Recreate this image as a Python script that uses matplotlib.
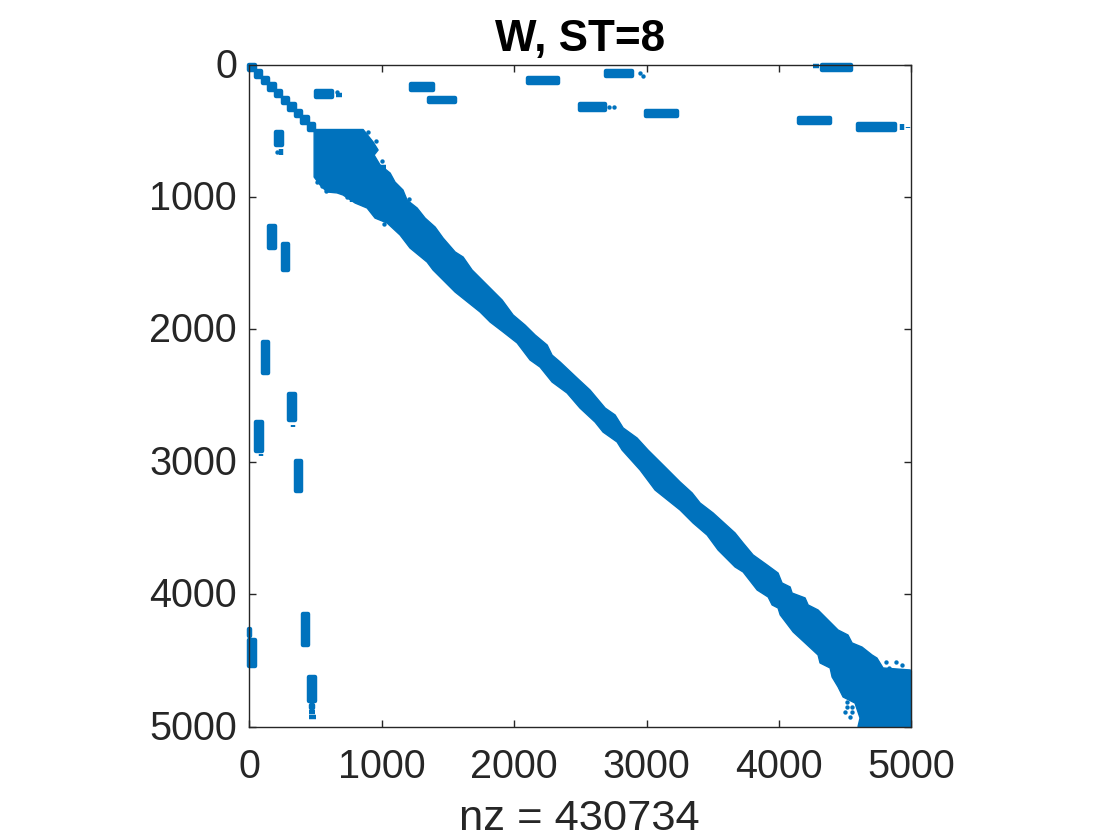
import matplotlib
matplotlib.use("Agg")
import matplotlib.pyplot as plt
from matplotlib.patches import Rectangle, Polygon
from matplotlib.transforms import ScaledTranslation

plt.rcParams['font.family'] = ['Liberation Sans', 'DejaVu Sans']

BLUE = '#0072BD'
DARK = '#262626'

title_text = 'W, ST=8'
xlabel_text = 'nz = 430734'
x_ticks = [0, 1000, 2000, 3000, 4000, 5000]
y_ticks = [0, 1000, 2000, 3000, 4000, 5000]

# Main diagonal band outline: (column, row)
upper_col = [489, 859, 934, 972, 942, 987, 1063, 1100, 1160, 1191, 1267, 1327, 1403, 1463, 1554, 1614,
             1682, 1795, 1909, 1992, 2082, 2158, 2249, 2286, 2347, 2475, 2573, 2687, 2762, 2823, 2928,
             3011, 3140, 3253, 3344, 3404, 3502, 3668, 3729, 3804, 3910, 3993, 4023, 4084, 4099, 4197,
             4220, 4295, 4446, 4521, 4552, 4627, 4703, 4740, 4786, 4990, 5000, 5000]
upper_row = [491, 491, 585, 646, 684, 759, 820, 888, 948, 1024, 1084, 1160, 1228, 1311, 1416, 1454,
             1552, 1665, 1779, 1892, 1968, 2043, 2119, 2195, 2247, 2368, 2459, 2595, 2647, 2745, 2821,
             2912, 3040, 3153, 3236, 3312, 3387, 3538, 3614, 3704, 3780, 3841, 3916, 3946, 3992, 4029,
             4082, 4120, 4271, 4309, 4369, 4400, 4460, 4483, 4558, 4573, 4580, 5000]
lower_col = [489, 489, 534, 587, 662, 708, 798, 889, 949, 1040, 1138, 1213, 1342, 1387, 1553, 1742,
             1818, 1916, 2022, 2120, 2195, 2286, 2399, 2497, 2611, 2671, 2777, 2815, 2951, 3064, 3253,
             3351, 3457, 3540, 3668, 3729, 3835, 3918, 3948, 3993, 4009, 4107, 4197, 4295, 4310, 4386,
             4401, 4446, 4484, 4574, 4612, 4597]
lower_row = [491, 850, 910, 963, 970, 986, 1046, 1084, 1160, 1197, 1288, 1386, 1492, 1552, 1718, 1869,
             1945, 2020, 2103, 2232, 2285, 2398, 2481, 2595, 2701, 2776, 2851, 2912, 3063, 3214, 3365,
             3463, 3554, 3667, 3795, 3833, 3969, 4022, 4082, 4105, 4157, 4286, 4369, 4460, 4520, 4558,
             4626, 4701, 4777, 4823, 4936, 5000]

# Ten leading diagonal blocks
diag_start = [0, 50, 100, 150, 200, 250, 300, 350, 400, 450]
diag_size = [50, 50, 50, 50, 50, 50, 50, 50, 50, 50]

# Off-diagonal clusters: column range and row range
block_col0 = [489, 640, 1206, 1403, 1342, 2090, 2679, 2482, 2981, 4310, 4250, 4137, 4582, 4918, 4960,
              187, 224, 134, 164, 239, 88, 285, 315, 35, 73, 338, 390,
              -17, -17, 436, 481, 451, 436, 436, 451, 980, 768]
block_col1 = [640, 708, 1403, 1425, 1569, 2347, 2905, 2702, 3245, 4559, 4310, 4401, 4892, 4940, 4985,
              262, 254, 209, 187, 307, 156, 358, 338, 111, 96, 406, 458,
              58, 25, 511, 511, 496, 511, 511, 481, 1040, 778]
block_row0 = [185, 223, 132, 155, 238, 87, 34, 283, 336, -15, 5, 389, 434, 440, 460,
              491, 623, 1205, 1401, 1341, 2081, 2474, 2708, 2685, 2934, 2980, 4135,
              4330, 4249, 4610, 4581, 4823, 4876, 4913, 4936, 770, 1008]
block_row1 = [261, 245, 208, 177, 298, 155, 102, 358, 404, 57, 25, 457, 510, 505, 490,
              623, 698, 1401, 1431, 1567, 2345, 2700, 2753, 2934, 2972, 3236, 4400,
              4559, 4330, 4823, 4610, 4876, 4900, 4936, 4966, 785, 1046]

# Isolated nonzeros
spot_col = [662, 2951, 2973, 2717, 2755, 209, 894, 957, 1000, 1206, 1020, 509, 547, 579, 736,
            4808, 4884, 4830, 4927, 4512, 4512, 4550, 4499, 4550, 4537]
spot_row = [210, 64, 87, 321, 321, 661, 507, 578, 731, 1018, 1205, 890, 915, 953, 998,
            4510, 4510, 4560, 4535, 4812, 4850, 4850, 4888, 4888, 4926]

fig = plt.figure(figsize=(11.2, 8.4), dpi=100)
ax = fig.add_axes([249.4 / 1120, (840 - 726.5) / 840, 662 / 1120, 662 / 840])


def add_block(c0, c1, r0, r1):
    i = min(17, (c1 - c0) / 2, (r1 - r0) / 2)
    ax.add_patch(Rectangle((c0 + i, r0 + i), c1 - c0 - 2 * i, r1 - r0 - 2 * i,
                           facecolor=BLUE, edgecolor=BLUE, linewidth=3.2,
                           joinstyle='round', clip_on=False, zorder=2))


outline = list(zip(upper_col, upper_row)) + list(zip(lower_col[::-1], lower_row[::-1]))
ax.add_patch(Polygon(outline, closed=True, facecolor=BLUE, edgecolor=BLUE,
                     linewidth=1.0, joinstyle='round', clip_on=False, zorder=2))

for s, w in zip(diag_start, diag_size):
    add_block(s - 17, s + w + 8, s - 17, s + w + 8)

for c0, c1, r0, r1 in zip(block_col0, block_col1, block_row0, block_row1):
    add_block(c0, c1, r0, r1)

ax.scatter(spot_col, spot_row, s=10, c=BLUE, linewidths=0, clip_on=False, zorder=2)

ax.set_xlim(0, 5000)
ax.set_ylim(5000, 0)
ax.set_xticks(x_ticks)
ax.set_yticks(y_ticks)
ax.tick_params(axis='both', which='major', direction='in', length=5, width=1.0,
               top=True, right=True, color=DARK, labelcolor=DARK, labelsize=28.5)
ax.tick_params(axis='x', pad=15.5)
ax.tick_params(axis='y', pad=9)
shift_up = ScaledTranslation(0, 2 / 72 * 0.72, fig.dpi_scale_trans)
for lab in ax.get_yticklabels():
    lab.set_transform(lab.get_transform() + shift_up)
for sp in ax.spines.values():
    sp.set_linewidth(1.0)
    sp.set_color(DARK)
    sp.set_zorder(3)

fig.text(580.5 / 1120, 1 - 50.5 / 840, title_text, fontsize=31.7, fontweight='bold',
         color='black', ha='center', va='baseline')
fig.text(579.5 / 1120, 1 - 830 / 840, xlabel_text, fontsize=31.3, color=DARK,
         ha='center', va='baseline')

fig.savefig('out.png', dpi=100, facecolor='white')
